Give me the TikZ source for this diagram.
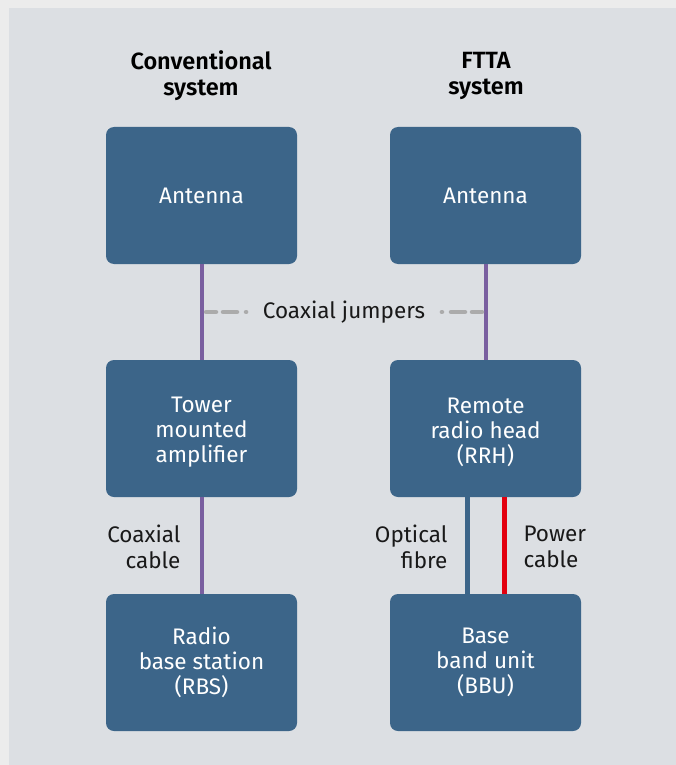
\documentclass[tikz,border=0pt]{standalone}
\usepackage{fontspec}
\setmainfont{Fira Sans}
\newfontfamily\headfont{Fira Sans SemiBold}
\definecolor{outer}{HTML}{ECECEC}
\definecolor{panel}{HTML}{DCDFE3}
\definecolor{boxblue}{HTML}{3C6589}
\definecolor{coax}{HTML}{7A5FA0}
\definecolor{dashgray}{HTML}{ABABAB}
\definecolor{powerred}{HTML}{E3000F}
\newcommand{\topstrut}{\rule{0pt}{23pt}}
\begin{document}
\begin{tikzpicture}[x=1pt,y=-1pt,
  unitbox/.style={fill=boxblue, rounded corners=8pt, minimum width=191pt, minimum height=137pt,
    text=white, align=center, font=\fontsize{22.5}{25}\selectfont, inner sep=0pt},
  head/.style={align=center, font=\headfont\fontsize{23.5}{26}\selectfont, text=black},
  lbl/.style={font=\fontsize{22.5}{25.5}\selectfont, text=black!90},
  coaxline/.style={draw=coax, line width=4pt},
  jumper/.style={draw=dashgray, line width=4.5pt, line cap=round}]
\useasboundingbox (0,0) rectangle (676,765);
\fill[outer] (0,0) rectangle (676,765);
\fill[panel] (9,8) rectangle (676,765);
\node[head] (hl) at (201,76) {Conventional\\system};
\node[head] (hr) at (486,76) {FTTA\\system};
\node[unitbox] (antL) at (201.5,195.5) {Antenna};
\node[unitbox] (antR) at (485.5,195.5) {Antenna};
\node[unitbox] (tma) at (201.5,428.5) {\topstrut Tower\\mounted\\amplifier};
\node[unitbox] (rrh) at (485.5,428.5) {\topstrut Remote\\radio head\\(RRH)};
\node[unitbox] (rbs) at (201.5,662.5) {Radio\\base station\\(RBS)};
\node[unitbox] (bbu) at (485.5,662.5) {Base\\band unit\\(BBU)};
\draw[coaxline] (antL.south) -- (tma.north);
\draw[coaxline] (antR.south) -- (rrh.north);
\draw[coaxline] (tma.south) -- (rbs.north);
\draw[draw=boxblue, line width=5pt] (rrh.south -| 467.5,0) -- (bbu.north -| 467.5,0);
\draw[draw=powerred, line width=5pt] (rrh.south -| 504,0) -- (bbu.north -| 504,0);
\node[lbl] (cj) at (344,312) {Coaxial jumpers};
\coordinate (jl) at (204,312);
\coordinate (jr) at (484,312);
\draw[jumper] (jl) ++(2,0) -- ++(10,0) ++(7,0) -- ++(14,0) ++(9,0) -- ++(0.1,0);
\draw[jumper] (jr) ++(-2,0) -- ++(-10,0) ++(-7,0) -- ++(-14,0) ++(-9,0) -- ++(-0.1,0);
\node[lbl, align=right, anchor=east] (cc) at (184,547) {Coaxial\\cable};
\node[lbl, align=right, anchor=east] (of) at (451,547) {Optical\\fibre};
\node[lbl, align=left, anchor=west] (pc) at (520,547) {Power\\cable};
\end{tikzpicture}
\end{document}
